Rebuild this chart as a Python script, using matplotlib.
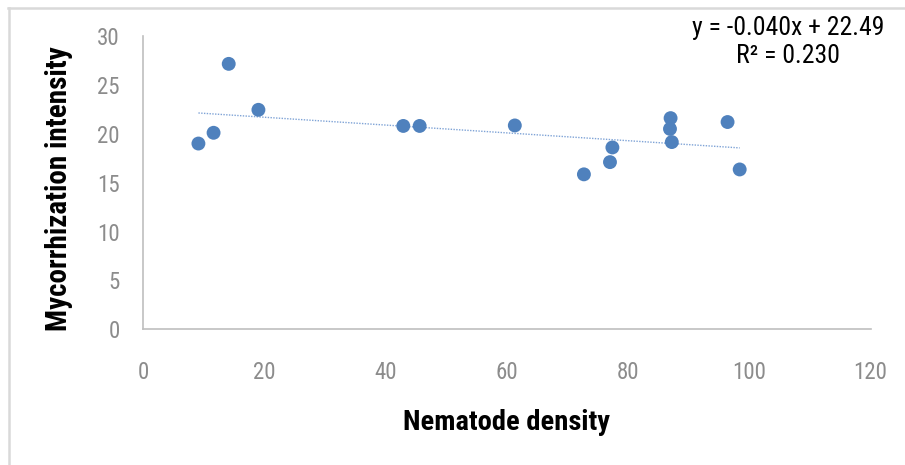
import numpy as np
import matplotlib
matplotlib.use("Agg")
import matplotlib.pyplot as plt
from matplotlib.lines import Line2D

# narrow face like the original, with a condensed fallback
plt.rcParams["font.family"] = ["Roboto Condensed", "DejaVu Sans"]
plt.rcParams["font.stretch"] = "condensed"

# data
nematode_density = [9.1, 11.6, 14.1, 19.0, 42.9, 45.6, 61.3, 72.7, 77.0, 77.4,
                    87.0, 86.9, 87.2, 96.4, 98.4]
mycorrhization = [19.0, 20.1, 27.15, 22.45, 20.8, 20.8, 20.85, 15.85, 17.1, 18.6,
                  21.6, 20.5, 19.15, 21.2, 16.35]
trend_slope = -0.040
trend_intercept = 22.49
trend_r2 = 0.230
x_ticks = [0, 20, 40, 60, 80, 100, 120]
y_ticks = [0, 5, 10, 15, 20, 25, 30]

fig = plt.figure(figsize=(9.05, 4.65), dpi=100)
ax = fig.add_axes([0.1583, 0.2918, 0.8037, 0.6308])

ax.scatter(nematode_density, mycorrhization, s=100, color="#4F81BD",
           edgecolors="none", zorder=3)

xs = np.array([min(nematode_density), max(nematode_density)])
ax.plot(xs, trend_slope * xs + trend_intercept, color="#7FA3D6",
        linewidth=1.0, linestyle=(0, (1, 1)), zorder=2)

ax.set_xlim(0, 120)
ax.set_ylim(0, 30)
ax.set_xticks(x_ticks)
ax.set_yticks(y_ticks)
ax.tick_params(axis="both", length=0, labelsize=16.5, colors="#8C8C8C")
ax.tick_params(axis="x", pad=23)
ax.tick_params(axis="y", pad=17)

for side in ["top", "right"]:
    ax.spines[side].set_visible(False)
for side in ["left", "bottom"]:
    ax.spines[side].set_color("#BFBFBF")
    ax.spines[side].set_linewidth(1.2)

ax.set_xlabel("Nematode density", fontsize=20.5, fontweight="bold")
ax.set_ylabel("Mycorrhization intensity", fontsize=21, fontweight="bold")
ax.xaxis.set_label_coords(0.5, -0.272)
ax.yaxis.set_label_coords(-0.097, 0.48)

fig.text(788 / 905, 1 - 28 / 465, f"y = {trend_slope:.3f}x + {trend_intercept:.2f}",
         fontsize=18.5, ha="center", va="center")
fig.text(788 / 905, 1 - 56 / 465, f"R² = {trend_r2:.3f}",
         fontsize=18.5, ha="center", va="center")

# light grey frame on top and left of the picture
fig.add_artist(Line2D([8 / 905, 1], [1 - 8 / 465, 1 - 8 / 465], color="#D9D9D9",
                      linewidth=1.8, transform=fig.transFigure))
fig.add_artist(Line2D([8.5 / 905, 8.5 / 905], [0, 1 - 8 / 465], color="#D9D9D9",
                      linewidth=1.8, transform=fig.transFigure))

fig.savefig("out.png", dpi=100)
